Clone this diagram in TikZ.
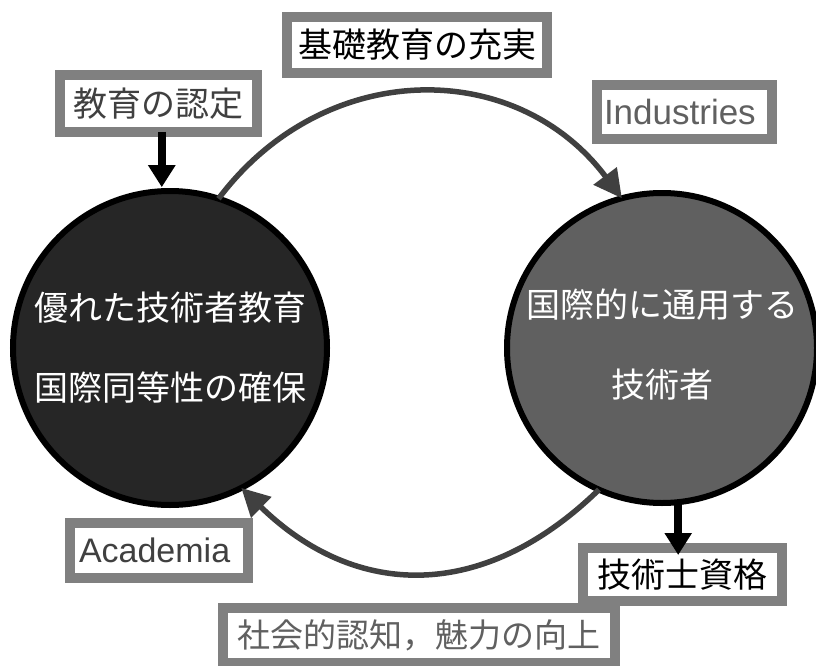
\documentclass[tikz,border=0pt]{standalone}
\usepackage{fontspec}
\newfontfamily\jp{Noto Sans CJK JP}
\newfontfamily\lat{Liberation Sans}
\usetikzlibrary{arrows.meta}
\definecolor{boxgray}{HTML}{808080}
\definecolor{arcgray}{HTML}{404040}
\definecolor{leftfill}{HTML}{262626}
\definecolor{rightfill}{HTML}{606060}
\definecolor{txtdark}{HTML}{404040}
\definecolor{txtmid}{HTML}{606060}
\begin{document}
\begin{tikzpicture}[x=1pt,y=-1pt,
  gbox/.style={draw=boxgray, line width=10pt, fill=white, inner sep=0pt, outer sep=0pt, font=\jp\fontsize{34}{40}\selectfont},
  latbox/.style={gbox, align=left, font=\lat\fontsize{35}{40}\selectfont},
  bigcircle/.style={circle, draw=black, line width=6pt, inner sep=0pt, outer sep=0pt},
  circtext/.style={text=white, align=center, inner sep=0pt, font=\jp\fontsize{34}{80}\selectfont},
  cyclearrow/.style={draw=arcgray, line width=5.5pt, -{Triangle[length=28pt,width=28pt]}},
  blk/.style={draw=black, line width=8pt, -{Triangle[length=22pt,width=26pt]}}
]
\useasboundingbox (0,0) rectangle (816,666);
% circles
\node[bigcircle, fill=leftfill, minimum size=314pt] (L) at (170,348) {};
\node[bigcircle, fill=rightfill, minimum size=310pt] (R) at (662,348) {};
\node[circtext] (Lt) at (L) {優れた技術者教育\\国際同等性の確保};
\node[circtext, yshift=3pt] (Rt) at (R) {国際的に通用する\\技術者};
% cycle arrows
\draw[cyclearrow] (L.72.6) .. controls +(106,-141) and +(-106,-141) .. (R.105);
\draw[cyclearrow] (R.246) .. controls +(-115,112) and +(115,112) .. (L.-63.6);
% boxes
\node[gbox, minimum width=260pt, minimum height=56pt, text=black] (kiso) at (417,45) {基礎教育の充実};
\node[gbox, minimum width=197pt, minimum height=57pt, text=txtdark] (nintei) at (158.5,103.5) {教育の認定};
\node[latbox, minimum width=175pt, minimum height=54pt, text width=161pt, text=txtmid] (ind) at (684.5,112) {Industries};
\node[latbox, minimum width=178pt, minimum height=55pt, text width=160pt, text=txtdark, font=\lat\fontsize{34}{40}\selectfont] (aca) at (159,550.5) {Academia};
\node[gbox, minimum width=392pt, minimum height=55pt, text=txtmid, font=\jp\fontsize{33}{40}\selectfont] (shakai) at (419,635.5) {社会的認知，魅力の向上};
\node[gbox, minimum width=199pt, minimum height=53pt, text=black] (shikaku) at (682.5,574.5) {技術士資格};
% black arrows
\draw[blk, shorten >=4pt] (L.93 |- nintei.south) -- (L.93);
\draw[blk, shorten >=-7pt] (R.-84.5) -- (R.-84.5 |- shikaku.north);
\end{tikzpicture}
\end{document}
